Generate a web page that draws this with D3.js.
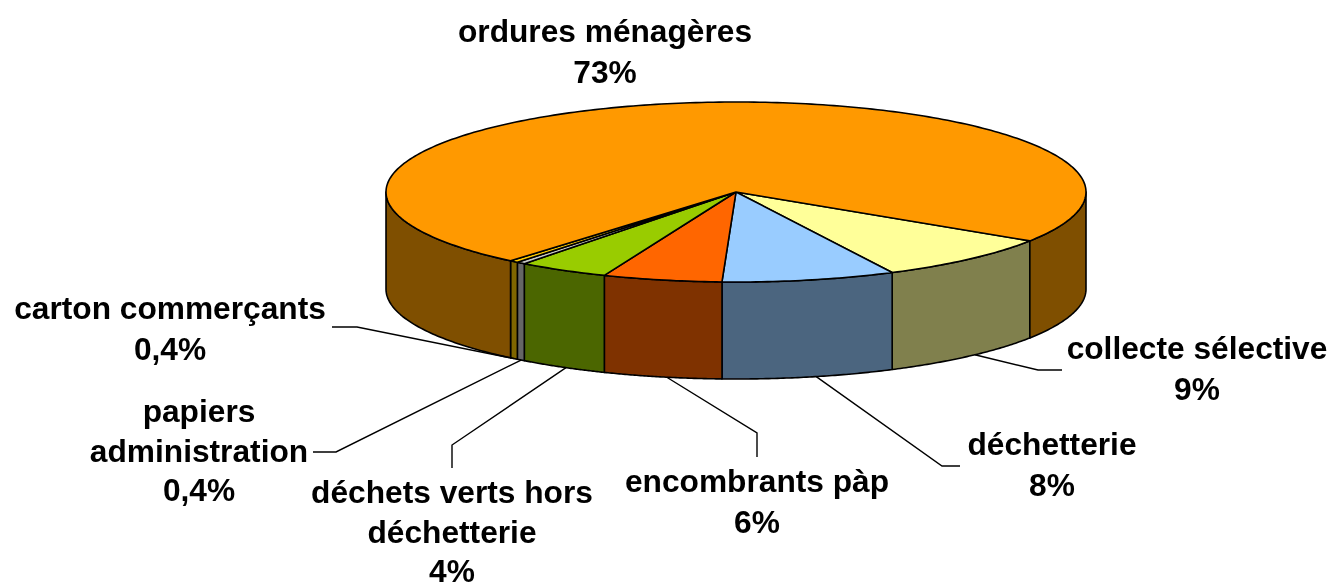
<!DOCTYPE html>
<html><head><meta charset="utf-8">
<script src="https://cdn.jsdelivr.net/npm/d3@7/dist/d3.min.js"></script>
<style>html,body{margin:0;padding:0;background:#fff}svg{display:block}</style>
</head><body><svg id="c" width="1331" height="584"><defs><filter id="soft" x="0" y="0" width="100%" height="100%"><feGaussianBlur stdDeviation="0.45"/></filter></defs><g id="root" filter="url(#soft)"></g></svg>
<script>
const categories=["ordures ménagères","collecte sélective","déchetterie","encombrants pàp","déchets verts hors déchetterie","papiers administration","carton commerçants"];
const values=[73.0,8.5,8.0,5.5,4.2,0.4,0.4];
const percentLabels=["73%","9%","8%","6%","4%","0,4%","0,4%"];
const topColors=["#FF9900","#FFFF99","#99CCFF","#FF6600","#99CC00","#C8C8C8","#FFCC00"];
const wallColors=["#7F4F00","#80804D","#4C657F","#7F3300","#4C6600","#666666","#7F6600"];
const labelLines=[["ordures ménagères","73%"],["collecte sélective","9%"],["déchetterie","8%"],["encombrants pàp","6%"],["déchets verts hors","déchetterie","4%"],["papiers","administration","0,4%"],["carton commerçants","0,4%"]];
const labelAnchors=[[605,42],[1197,359],[1052,455],[757,492],[452,503],[199,422],[170,319]];
const leaders=[null,[[1062,370],[1038,370]],[[960,466],[942,466]],[[757,457],[757,433]],[[452,468],[452,445]],[[313,452],[336,452]],[[332,327],[357,327]]];

const root=d3.select("#root");
const cx=736,cy=192,rx=350,ry=90,depth=97,startDeg=32.9,leaderFrac=0.46;
const rad=d=>d*Math.PI/180;
// pie is laid out clockwise on screen, beginning at the orange/yellow edge and running through the back
const order=[1,2,3,4,5,6,0];
const pie=d3.pie().sort(null).value(i=>values[i]).startAngle(rad(startDeg)).endAngle(rad(startDeg+360));
const arcs=pie(order);
const px=t=>cx+rx*Math.cos(t), py=(t,h=0)=>cy+ry*Math.sin(t)+h;
const line=d3.line();
const black="#000";

// walls
arcs.forEach(a=>{
  const i=a.data;
  const segs=[[a.startAngle,a.endAngle]];
  if(a.endAngle>2*Math.PI) segs.push([a.startAngle-2*Math.PI,a.endAngle-2*Math.PI]);
  segs.forEach(([s,e])=>{
    const lo=Math.max(s,0),hi=Math.min(e,Math.PI);
    if(hi<=lo) return;
    const ts=d3.range(0,61).map(k=>lo+(hi-lo)*k/60);
    const pts=ts.map(t=>[px(t),py(t)]).concat(ts.slice().reverse().map(t=>[px(t),py(t,depth)]));
    root.append("path").attr("d",line(pts)+"Z").attr("fill",wallColors[i]).attr("stroke",black).attr("stroke-width",1.6).attr("stroke-linejoin","round");
  });
});
// top
arcs.forEach(a=>{
  const i=a.data;
  const n=Math.max(4,Math.ceil((a.endAngle-a.startAngle)*60));
  const pts=[[cx,cy]].concat(d3.range(0,n+1).map(k=>{const t=a.startAngle+(a.endAngle-a.startAngle)*k/n;return [px(t),py(t)];}));
  root.append("path").attr("d",line(pts)+"Z").attr("fill",topColors[i]).attr("stroke",black).attr("stroke-width",1.6).attr("stroke-linejoin","round");
});
// leader lines
arcs.forEach(a=>{
  const i=a.data; if(!leaders[i]) return;
  const m=a.startAngle+(a.endAngle-a.startAngle)*leaderFrac;
  const pts=leaders[i].concat([[px(m),py(m,depth)]]);
  root.append("path").attr("d",line(pts)).attr("fill","none").attr("stroke",black).attr("stroke-width",1.4);
});
// labels
const fs=31.7;
labelLines.forEach((ls,i)=>{
  const lh=ls.length>2?39.5:41;
  const t=root.append("text").attr("text-anchor","middle").attr("font-family","'Liberation Sans',Arial,sans-serif").attr("font-weight","bold").attr("font-size",fs).attr("fill","#000");
  ls.forEach((s,k)=>t.append("tspan").attr("x",labelAnchors[i][0]).attr("y",labelAnchors[i][1]+k*lh).text(s));
});
</script></body></html>
